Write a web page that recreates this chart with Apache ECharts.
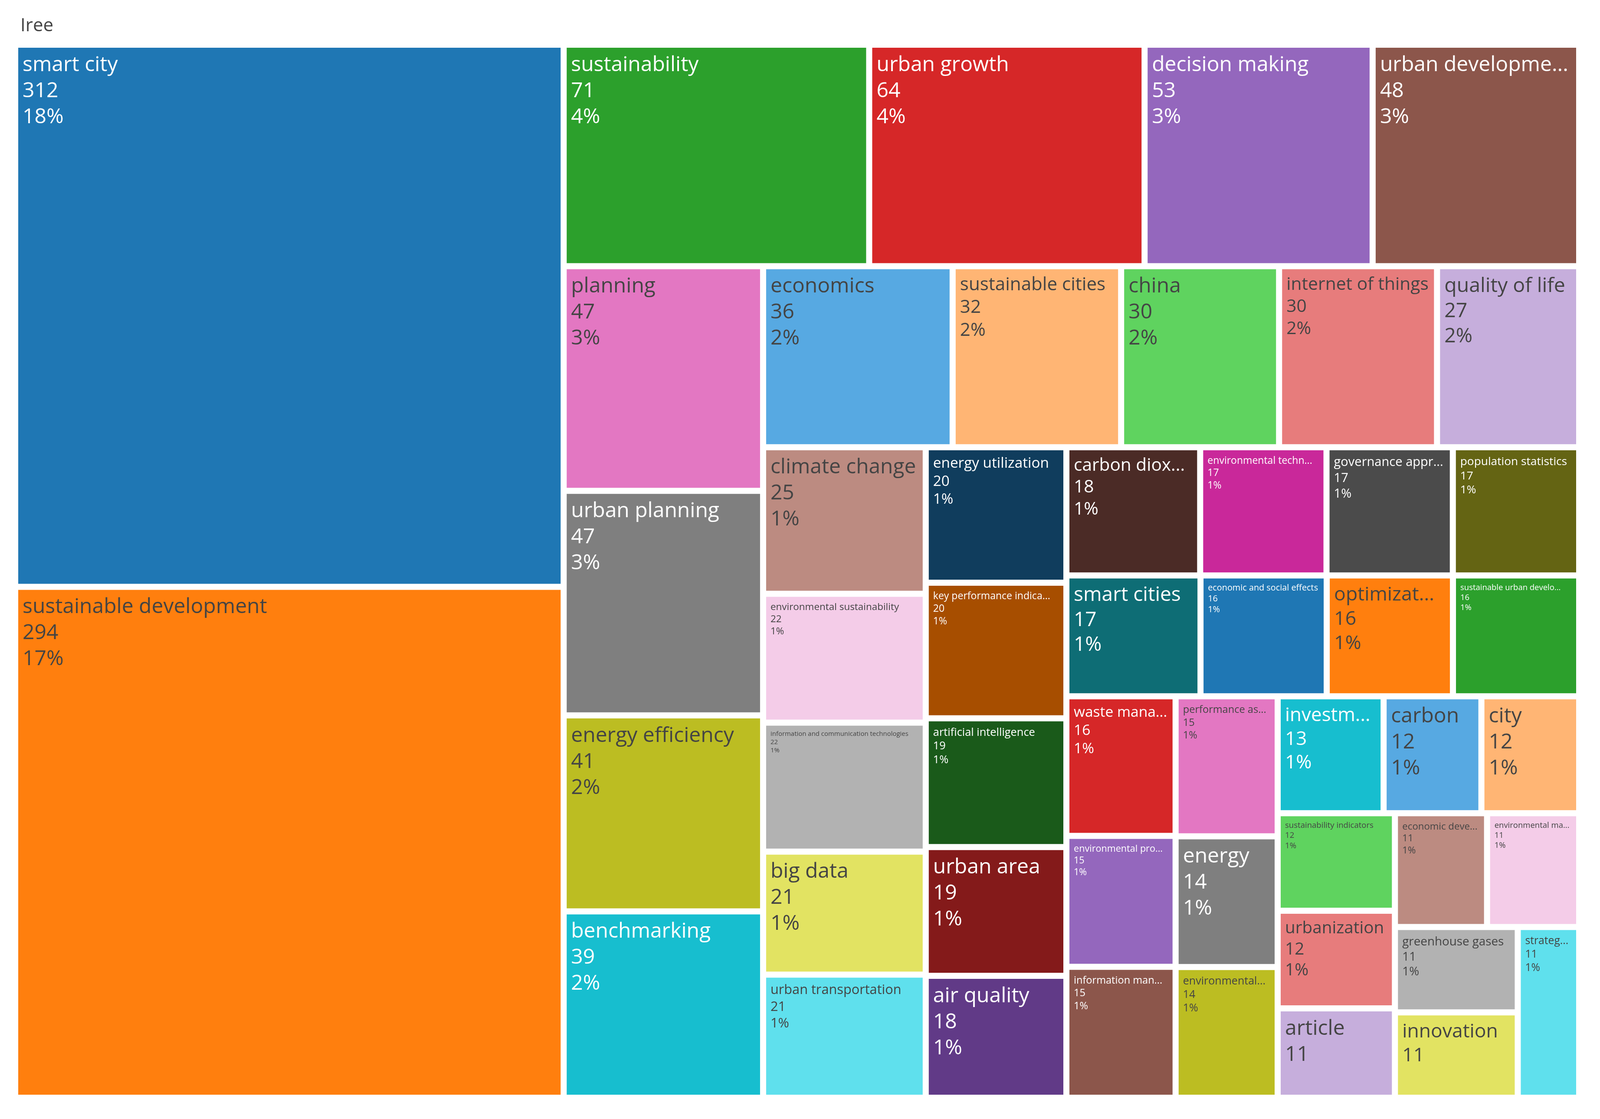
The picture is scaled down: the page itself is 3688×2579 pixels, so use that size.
<!DOCTYPE html>
<html>
<head>
<meta charset="utf-8">
<script src="https://cdn.jsdelivr.net/npm/echarts@6/dist/echarts.min.js"></script>
<style>html,body{margin:0;padding:0;background:#fff}#chart{width:3688px;height:2579px}</style>
</head>
<body>
<div id="chart"></div>
<script>
const names = ['smart city', 'sustainable development', 'sustainability', 'urban growth', 'decision making',
  'urban development', 'planning', 'urban planning', 'energy efficiency', 'benchmarking',
  'economics', 'sustainable cities', 'china', 'internet of things', 'quality of life',
  'climate change', 'environmental sustainability', 'information and communication technologies', 'big data', 'urban transportation',
  'energy utilization', 'key performance indicators', 'artificial intelligence', 'urban area', 'air quality',
  'carbon dioxide', 'environmental technology', 'governance approach', 'population statistics', 'smart cities',
  'economic and social effects', 'optimization', 'sustainable urban development', 'waste management', 'environmental protection',
  'information management', 'performance assessment', 'energy', 'environmental impact', 'investments',
  'carbon', 'city', 'sustainability indicators', 'urbanization', 'article',
  'economic development', 'environmental management', 'greenhouse gases', 'innovation', 'strategic approach'];
const values = [312, 294, 71, 64, 53, 48, 47, 47, 41, 39,
  36, 32, 30, 30, 27, 25, 22, 22, 21, 21,
  20, 20, 19, 19, 18, 18, 17, 17, 17, 17,
  16, 16, 16, 16, 15, 15, 15, 14, 14, 13,
  12, 12, 12, 12, 11, 11, 11, 11, 11, 11];
const palette = ['#1f77b4', '#ff7f0e', '#2ca02c', '#d62728', '#9467bd', '#8c564b', '#e377c2', '#7f7f7f', '#bcbd22', '#17becf',
  '#57a9e2', '#ffb574', '#5fd35f', '#e77c7c', '#c6aedc', '#bc8b81', '#f4cce8', '#b2b2b2', '#e2e362', '#5fe0ed',
  '#103d5d', '#a74e00', '#1a5a1a', '#841a1a', '#613a87', '#4b2b26', '#c9289a', '#4b4b4b', '#646413', '#0e6d75'];
const paletteTail = ['#1f77b4', '#ff7f0e', '#2ca02c', '#d62728', '#9467bd', '#8c564b', '#e377c2', '#7f7f7f', '#bcbd22', '#17becf',
  '#57a9e2', '#ffb574', '#5fd35f', '#e77c7c', '#c6aedc', '#bc8b81', '#f4cce8', '#b2b2b2', '#e2e362', '#5fe0ed'];

const total = values.reduce((a, b) => a + b, 0);

function textColor(hex) {
  const r = parseInt(hex.slice(1, 3), 16), g = parseInt(hex.slice(3, 5), 16), b = parseInt(hex.slice(5, 7), 16);
  const lum = 0.299 * r + 0.587 * g + 0.114 * b;
  return lum > 150 ? '#444' : '#fff';
}

const data = names.map((n, i) => {
  const color = i < 30 ? palette[i] : paletteTail[i - 30];
  const fs = Math.max(12, Math.min(48, 67 * Math.sqrt(values[i]) * 1.1 / (0.55 * n.length)));
  return {
    name: n,
    value: values[i],
    itemStyle: {color: color},
    label: {color: textColor(color), fontSize: fs, lineHeight: fs * 1.25}
  };
});

const chart = echarts.init(document.getElementById('chart'));
chart.setOption({
  animation: false,
  title: {
    text: 'Iree', left: 42, top: 34,
    textStyle: {fontFamily: 'Open Sans', fontSize: 42, fontWeight: 'normal', color: '#444'}
  },
  series: [{
    type: 'treemap',
    left: 42, top: 110, right: 55, bottom: 56,
    roam: false,
    nodeClick: false,
    breadcrumb: {show: false},
    sort: false,
    squareRatio: 1,
    itemStyle: {borderWidth: 0, gapWidth: 14, borderColor: '#fff'},
    levels: [{itemStyle: {gapWidth: 14, borderWidth: 0}}],
    label: {
      show: true,
      position: 'insideTopLeft',
      fontFamily: 'Open Sans',
      padding: [10, 10],
      overflow: 'truncate',
      formatter: p => p.name + '\n' + p.value + '\n' + Math.round(p.value / total * 100) + '%'
    },
    data: data
  }]
});
</script>
</body>
</html>
